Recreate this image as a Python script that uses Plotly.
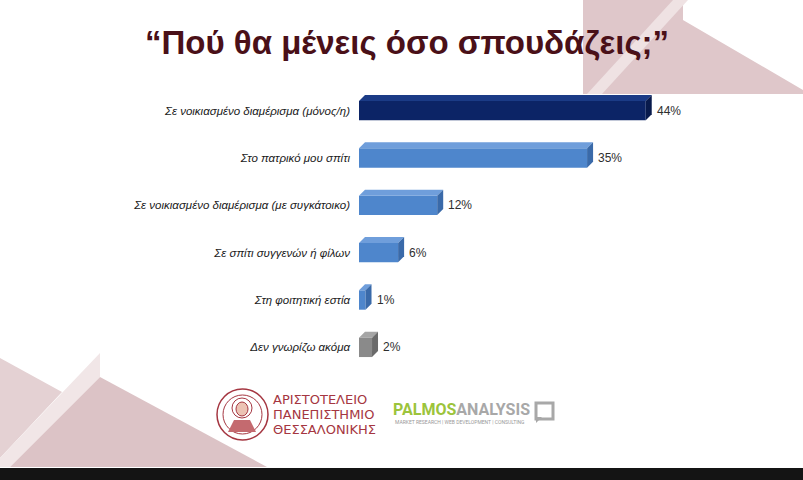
import plotly.graph_objects as go

# === Data ===
categories = [
    "Σε νοικιασμένο διαμέρισμα (μόνος/η)",
    "Στο πατρικό μου σπίτι",
    "Σε νοικιασμένο διαμέρισμα (με συγκάτοικο)",
    "Σε σπίτι συγγενών ή φίλων",
    "Στη φοιτητική εστία",
    "Δεν γνωρίζω ακόμα",
]
values = [44, 35, 12, 6, 1, 2]
value_labels = ["44%", "35%", "12%", "6%", "1%", "2%"]
title_text = "“Πού θα μένεις όσο σπουδάζεις;”"
uni_lines = ["ΑΡΙΣΤΟΤΕΛΕΙΟ", "ΠΑΝΕΠΙΣΤΗΜΙΟ", "ΘΕΣΣΑΛΟΝΙΚΗΣ"]

# === Style ===
# (front, top, side) for each bar
NAVY = ("#0c2466", "#1b3b86", "#081a4c")
BLUE = ("#4e86cc", "#6f9edb", "#3a6aa9")
GREY = ("#8a8a8a", "#a5a5a5", "#6a6a6a")
bar_styles = [NAVY, BLUE, BLUE, BLUE, BLUE, GREY]

W, H = 803, 480
PL, PR, PT, PB = 359, 750, 87, 371   # plot area in pixels
X_MAX = 60
BAR_W = 0.41
DX = 6 / ((PR - PL) / X_MAX)         # 3D depth in data units
DY = 6 / ((PB - PT) / len(categories))


def px(x):
    return (x - PL) / (PR - PL)


def py(y):
    return (PB - y) / (PB - PT)


def poly(points, color, layer="below"):
    path = "M " + " L ".join(f"{px(x):.4f},{py(y):.4f}" for x, y in points) + " Z"
    return dict(type="path", path=path, xref="paper", yref="paper",
                fillcolor=color, line=dict(width=0), layer=layer)


fig = go.Figure()

ypos = list(range(len(categories)))

# front faces
fig.add_trace(go.Bar(
    x=values, y=ypos, orientation="h", width=BAR_W,
    marker=dict(color=[s[0] for s in bar_styles], line=dict(width=0)),
    hoverinfo="skip", showlegend=False,
))

# top + side faces of the 3D bars
for i, v in enumerate(values):
    y0 = i - BAR_W / 2
    y1 = i + BAR_W / 2
    fig.add_trace(go.Scatter(
        x=[0, v, v + DX, DX, 0], y=[y0, y0, y0 - DY, y0 - DY, y0],
        fill="toself", fillcolor=bar_styles[i][1], mode="lines",
        line=dict(width=0), hoverinfo="skip", showlegend=False,
    ))
    fig.add_trace(go.Scatter(
        x=[v, v + DX, v + DX, v, v], y=[y0, y0 - DY, y1 - DY, y1, y0],
        fill="toself", fillcolor=bar_styles[i][2], mode="lines",
        line=dict(width=0), hoverinfo="skip", showlegend=False,
    ))

annotations = []
for i, v in enumerate(values):
    annotations.append(dict(
        x=v + DX, y=i, xref="x", yref="y", text=value_labels[i],
        showarrow=False, xanchor="left", yanchor="middle", xshift=3,
        font=dict(family="Liberation Sans", size=12, color="#2e2e2e"),
    ))

# title
annotations.append(dict(
    x=px(407), y=py(42), xref="paper", yref="paper", text=f"<b>{title_text}</b>",
    showarrow=False, xanchor="center", yanchor="middle",
    font=dict(family="Liberation Sans", size=33, color="#4a1018"),
))

# university logo text
for k, line in enumerate(uni_lines):
    annotations.append(dict(
        x=px(271), y=py(399 + 15 * k), xref="paper", yref="paper", text=line,
        showarrow=False, xanchor="left", yanchor="middle",
        font=dict(family="DejaVu Sans", size=13, color="#a53641"),
    ))

# palmos logo
annotations.append(dict(
    x=px(391), y=py(409), xref="paper", yref="paper",
    text="<b><span style='color:#9cc43c'>PALMOS</span><span style='color:#a8a8a8'>ANALYSIS</span></b>",
    showarrow=False, xanchor="left", yanchor="middle",
    font=dict(family="Roboto", size=16),
))
annotations.append(dict(
    x=px(393), y=py(422), xref="paper", yref="paper",
    text="MARKET RESEARCH | WEB DEVELOPMENT | CONSULTING",
    showarrow=False, xanchor="left", yanchor="middle",
    font=dict(family="Roboto", size=5, color="#999999"),
))

shapes = [
    # top-right decoration
    poly([(583, 0), (683, 0), (683, 20), (803, 90), (803, 94), (583, 94)], "#dfc7ca"),
    poly([(587, 94), (602, 94), (688, 0), (673, 0)], "#efe2e3"),
    # bottom-left decoration
    poly([(0, 358), (62, 392), (0, 458)], "#e4d1d3"),
    poly([(0, 458), (100, 353), (100, 377), (10, 467), (0, 467)], "#f1e6e7"),
    poly([(100, 377), (267, 467), (10, 467)], "#dcc3c6"),
    # bottom dark strip
    dict(type="rect", xref="paper", yref="paper", x0=px(0), x1=px(W), y0=py(468), y1=py(H),
         fillcolor="#141414", line=dict(width=0), layer="below"),
    # university seal
    dict(type="circle", xref="paper", yref="paper", x0=px(217), x1=px(268), y0=py(389), y1=py(440),
         line=dict(color="#a53641", width=1.5), layer="above"),
    dict(type="circle", xref="paper", yref="paper", x0=px(223), x1=px(262), y0=py(395), y1=py(434),
         line=dict(color="#a53641", width=1), layer="above"),
    dict(type="circle", xref="paper", yref="paper", x0=px(232), x1=px(252), y0=py(398), y1=py(418),
         line=dict(color="#a53641", width=1), layer="above"),
    dict(type="circle", xref="paper", yref="paper", x0=px(236), x1=px(248), y0=py(402), y1=py(416),
         fillcolor="#ecc3b4", line=dict(color="#a53641", width=1), layer="above"),
    poly([(228, 432), (234, 420), (250, 420), (256, 432)], "#c46a6f", layer="above"),
    # palmos icon
    dict(type="rect", xref="paper", yref="paper", x0=px(536), x1=px(553), y0=py(403), y1=py(419),
         line=dict(color="#a8a8a8", width=3), layer="above"),
    poly([(536, 417), (542, 417), (536, 423)], "#a8a8a8", layer="above"),
]

fig.update_layout(
    width=W, height=H,
    margin=dict(l=PL, r=W - PR, t=PT, b=H - PB, autoexpand=False),
    paper_bgcolor="white",
    plot_bgcolor="rgba(0,0,0,0)",
    showlegend=False,
    xaxis=dict(range=[0, X_MAX], visible=False, fixedrange=True),
    yaxis=dict(
        range=[len(categories) - 0.5, -0.5],
        tickvals=ypos, ticktext=categories,
        showgrid=False, zeroline=False, showline=False,
        ticks="", ticklabelstandoff=8,
        tickfont=dict(family="Liberation Sans", size=11.5, color="#1a1a1a", style="italic"),
        fixedrange=True,
    ),
    annotations=annotations,
    shapes=shapes,
)

fig.write_html("out.html", config={"displayModeBar": False},
               post_script="document.body.style.margin='0';")
